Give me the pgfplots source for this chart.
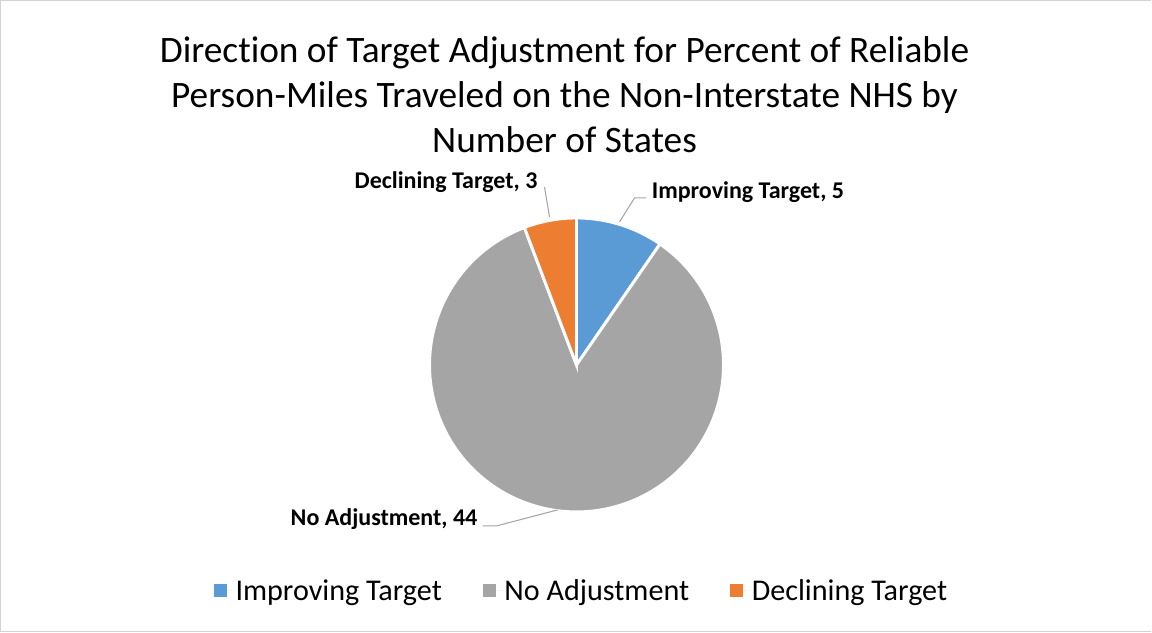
\documentclass[border=0pt]{standalone}
\usepackage{pgfplots}
\pgfplotsset{compat=1.18}
\usepackage{fontspec}
\setmainfont{Carlito}[Ligatures=NoCommon]
\definecolor{cblue}{HTML}{5B9BD5}
\definecolor{cgray}{HTML}{A5A5A5}
\definecolor{corange}{HTML}{ED7D31}
\definecolor{cline}{HTML}{A6A6A6}
\begin{document}
\begin{tikzpicture}
% data: number of states
\def\vA{5}  % Improving Target
\def\vB{44} % No Adjustment
\def\vC{3}  % Declining Target
\pgfmathsetmacro{\tot}{\vA+\vB+\vC}
\pgfmathsetmacro{\aA}{90}
\pgfmathsetmacro{\aB}{90-360*\vA/\tot}
\pgfmathsetmacro{\aC}{\aB-360*\vB/\tot}
\pgfmathsetmacro{\aD}{\aC-360*\vC/\tot}
\begin{axis}[
  at={(0,0)}, anchor=south west,
  width=864pt, height=475.5pt, scale only axis,
  xmin=0, xmax=1152, ymin=0, ymax=634,
  axis lines=none, clip=false,
  legend columns=3,
  legend style={draw=none, fill=none, at={(axis cs:582.5,43)}, anchor=center,
    font=\fontsize{22.6pt}{26pt}\selectfont,
    /tikz/every even column/.append style={column sep=29pt},
    cells={anchor=west}},
  legend image code/.code={\fill[#1,draw=none] (0pt,-4.6pt) rectangle (9.5pt,4.9pt); \path[draw=none] (0pt,0pt) -- (14pt,0pt);},
]
\addplot[fill=cblue, draw=white, line width=2.2pt, domain=\aB:\aA, samples=40, variable=\t]
  ({577+147*cos(\t)},{269+147*sin(\t)}) -- (axis cs:577,269) -- cycle;
\addlegendentry{Improving Target}
\addplot[fill=cgray, draw=white, line width=2.2pt, domain=\aC:\aB, samples=200, variable=\t]
  ({577+147*cos(\t)},{269+147*sin(\t)}) -- (axis cs:577,269) -- cycle;
\addlegendentry{No Adjustment}
\addplot[fill=corange, draw=white, line width=2.2pt, domain=\aD:\aC, samples=30, variable=\t]
  ({577+147*cos(\t)},{269+147*sin(\t)}) -- (axis cs:577,269) -- cycle;
\addlegendentry{Declining Target}
% frame
\draw[gray!35, line width=0.9pt] (axis cs:1152,2) -- (axis cs:1,2) -- (axis cs:1,633.4) -- (axis cs:1152,633.4);
% title
\node[align=center, font=\fontsize{28pt}{33.8pt}\selectfont, anchor=center]
  at (axis cs:565,539) {Direction of Target Adjustment for Percent of Reliable\\Person-Miles Traveled on the Non-Interstate NHS by\\Number of States};
% leader lines
\draw[cline, line width=0.8pt] (axis cs:620,412) -- (axis cs:635,436) -- (axis cs:647,436);
\draw[cline, line width=0.8pt] (axis cs:550,417) -- (axis cs:545,447);
\draw[cline, line width=0.8pt] (axis cs:558,124) -- (axis cs:497,108) -- (axis cs:483,108);
% data labels
\node[font=\bfseries\fontsize{18pt}{20pt}\selectfont, anchor=center] at (axis cs:446.5,452) {Declining Target, 3};
\node[font=\bfseries\fontsize{18pt}{20pt}\selectfont, anchor=center] at (axis cs:748.5,442) {Improving Target, 5};
\node[font=\bfseries\fontsize{18pt}{20pt}\selectfont, anchor=center] at (axis cs:384.5,115) {No Adjustment, 44};
\end{axis}
\end{tikzpicture}
\end{document}
